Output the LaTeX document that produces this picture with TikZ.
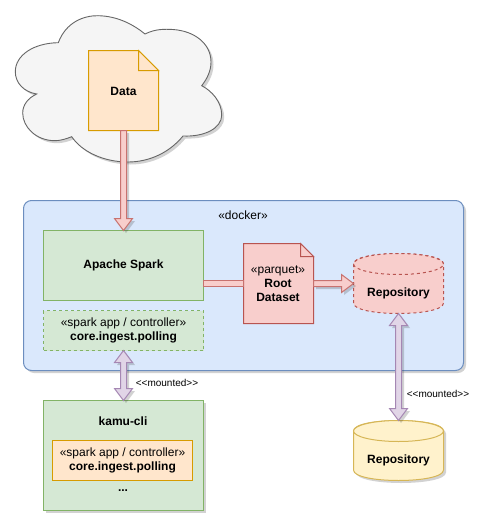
\documentclass[tikz,border=0pt]{standalone}
\usepackage{fontspec}
\setmainfont{Liberation Sans}
\usetikzlibrary{positioning,calc,shadows}

\definecolor{redfill}{HTML}{F8CECC}
\definecolor{redline}{HTML}{B85450}
\definecolor{greenfill}{HTML}{D5E8D4}
\definecolor{greenline}{HTML}{82B366}
\definecolor{bluefill}{HTML}{DAE8FC}
\definecolor{blueline}{HTML}{6C8EBF}
\definecolor{orangefill}{HTML}{FFE6CC}
\definecolor{orangeline}{HTML}{D79B00}
\definecolor{purplefill}{HTML}{E1D5E7}
\definecolor{purpleline}{HTML}{9673A6}
\definecolor{yellowfill}{HTML}{FFF2CC}
\definecolor{yellowline}{HTML}{D6B656}
\definecolor{cloudfill}{HTML}{F5F5F5}
\definecolor{cloudline}{HTML}{666666}

\tikzset{
  every node/.style={font=\fontsize{12}{14}\selectfont},
  shadowed/.style={drop shadow={shadow xshift=2.5pt,shadow yshift=-2.5pt,opacity=.22,fill=black!80}},
  box/.style={rectangle,draw,line width=1pt,outer sep=0pt,align=center,inner sep=0pt},
  notesheet/.style={rectangle,outer sep=0pt,inner sep=0pt,minimum width=70pt,minimum height=80pt},
  drumsheet/.style={rectangle,outer sep=0pt,inner sep=0pt,minimum width=90pt,minimum height=60pt},
  redarrow/.style={draw=redline!75!redfill,fill=redfill,line width=1pt},
  purplearrow/.style={draw=purpleline!80!purplefill,fill=purplefill,line width=1pt},
  small/.style={font=\fontsize{10}{12}\selectfont,inner sep=0pt},
  plain/.style={inner sep=0pt,align=center},
  strong/.style={inner sep=0pt,align=center,font=\fontsize{12}{14}\selectfont\bfseries}
}

% outline of a note, with its folded corner, over the box of a named node
\newcommand{\notefold}[3]{
  \draw[#2,line width=1pt,line join=miter]
    (#1.north west) -- ($(#1.north east)+(-#3,0pt)$) -- ($(#1.north east)+(0pt,-#3)$)
    -- (#1.south east) -- (#1.south west) -- cycle;
  \draw[#2,line width=1pt,line join=miter]
    ($(#1.north east)+(-#3,0pt)$) -- ($(#1.north east)+(-#3,-#3)$) -- ($(#1.north east)+(0pt,-#3)$) -- cycle;
}
% outline of a drum over the box of a named node, second style for the body only
\newcommand{\drumbody}[3]{
  \draw[#2,#3,line width=1pt]
    ($(#1.north west)+(0pt,-10.5pt)$) -- ($(#1.south west)+(0pt,10.5pt)$)
    .. controls ($(#1.south west)+(0pt,-3.5pt)$) and ($(#1.south east)+(0pt,-3.5pt)$) .. ($(#1.south east)+(0pt,10.5pt)$)
    -- ($(#1.north east)+(0pt,-10.5pt)$)
    .. controls ($(#1.north east)+(0pt,3.5pt)$) and ($(#1.north west)+(0pt,3.5pt)$) .. cycle;
  \draw[#2,line width=1pt] ($(#1.north)+(0pt,-10.5pt)$) ellipse [x radius=45pt,y radius=10.5pt];
}
% block arrows between two named points
\newcommand{\barconn}[3]{
  \draw[#1] ($(#2)!3pt!90:(#3)$) -- ($(#3)!3pt!-90:(#2)$) -- ($(#3)!3pt!90:(#2)$) -- ($(#2)!3pt!-90:(#3)$) -- cycle;
}
\newcommand{\arrowconn}[3]{
  \coordinate (neck) at ($(#3)!12pt!(#2)$);
  \draw[#1,shadowed] ($(#2)!3pt!90:(#3)$) -- ($(neck)!3pt!90:(#3)$) -- ($(neck)!9pt!90:(#3)$) -- (#3)
    -- ($(neck)!9pt!-90:(#3)$) -- ($(neck)!3pt!-90:(#3)$) -- ($(#2)!3pt!-90:(#3)$) -- cycle;
}
\newcommand{\bothconn}[3]{
  \coordinate (neckA) at ($(#2)!12pt!(#3)$);
  \coordinate (neckB) at ($(#3)!12pt!(#2)$);
  \draw[#1,shadowed] (#2) -- ($(neckA)!9pt!-90:(#3)$) -- ($(neckA)!3pt!-90:(#3)$) -- ($(neckB)!3pt!90:(#2)$)
    -- ($(neckB)!9pt!90:(#2)$) -- (#3) -- ($(neckB)!9pt!-90:(#2)$) -- ($(neckB)!3pt!-90:(#2)$)
    -- ($(neckA)!3pt!90:(#3)$) -- ($(neckA)!9pt!90:(#3)$) -- cycle;
}

\begin{document}
\begin{tikzpicture}[x=1pt,y=-1pt]
  \useasboundingbox (0,0) rectangle (480,522);

  % cloud
  \draw[fill=cloudfill,draw=cloudline,line width=.9pt,shadowed]
    (58.3,42.7) .. controls (66,22) and (84,15.5) .. (98,15.7)
    .. controls (118,16) and (134,25) .. (145,34)
    .. controls (155,29) and (164,29) .. (173,29.5)
    .. controls (195,31) and (211,44) .. (211,62)
    .. controls (211,71) and (207,79) .. (201.7,85.7)
    .. controls (212,91) and (221.7,102) .. (221.7,115)
    .. controls (221.7,128) and (205,137) .. (183,136)
    .. controls (170,152) and (150,162) .. (128,162)
    .. controls (104,162) and (82,152) .. (71.7,136.7)
    .. controls (66,139) and (60,140.7) .. (55,140.7)
    .. controls (36,140.7) and (22.7,127) .. (22.7,113)
    .. controls (22.7,105) and (28,98) .. (36.7,94)
    .. controls (24,92) and (15.3,83) .. (15.3,71.7)
    .. controls (15.3,55) and (34,43) .. (58.3,42.7) -- cycle;

  % docker container
  \node[box,draw=blueline,fill=bluefill,rounded corners=8pt,minimum width=440pt,minimum height=170pt,shadowed] (docker) at (243.5,285.5) {};
  \node[plain] (dockerlabel) at (243,215) {«docker»};

  \node[notesheet] (data) at (123.5,90.5) {};
  \notefold{data}{draw=orangeline,fill=orangefill}{20pt}
  \node[strong] (datalabel) at (123.5,91) {Data};

  \node[box,draw=greenline,fill=greenfill,minimum width=160pt,minimum height=70pt] (spark) at (123.5,265.5) {\textbf{Apache Spark}};
  \node[box,draw=greenline,fill=greenfill,dashed,minimum width=160pt,minimum height=40pt] (sparkapp) [below=10pt of spark] {«spark app / controller»\\\textbf{core.ingest.polling}};

  \node[notesheet] (parquet) at (278.5,283.5) {};
  \notefold{parquet}{draw=redline,fill=redfill}{13pt}
  \node[plain] (parquetlabel) at (278,283.5) {«parquet»\\\textbf{Root}\\\textbf{Dataset}};

  \node[drumsheet] (repo) at (398.5,283.5) {};
  \drumbody{repo}{draw=redline,fill=redfill,dashed}{}
  \node[strong] (repolabel) at (398.5,293) {Repository};

  \node[drumsheet] (repomount) at (398.5,450.5) {};
  \drumbody{repomount}{draw=yellowline,fill=yellowfill}{shadowed}
  \node[strong] (mountlabel) at (398.5,460) {Repository};

  \node[box,draw=greenline,fill=greenfill,minimum width=160pt,minimum height=110pt,shadowed] (kamu) at (123.5,455.5) {};
  \node[strong] (kamulabel) at (123,421) {kamu-cli};
  \node[box,draw=orangeline,fill=orangefill,minimum width=140pt,minimum height=40pt] (kamuapp) at (122.5,460.5) {«spark app / controller»\\\textbf{core.ingest.polling}};
  \node[strong] (kamudots) at (123,491) {...};

  \coordinate (sparkout) at (spark.east |- parquet.west);
  \arrowconn{redarrow}{data.south}{spark.north}
  \barconn{redarrow}{sparkout}{parquet.west}
  \arrowconn{redarrow}{parquet.east}{repo.west}
  \bothconn{purplearrow}{sparkapp.south}{kamu.north}
  \bothconn{purplearrow}{repo.south}{repomount.north}

  \node[small] (mountleft) at (167,383) {<{}<mounted>{}>};
  \node[small] (mountright) at (438,393.5) {<{}<mounted>{}>};
\end{tikzpicture}
\end{document}
